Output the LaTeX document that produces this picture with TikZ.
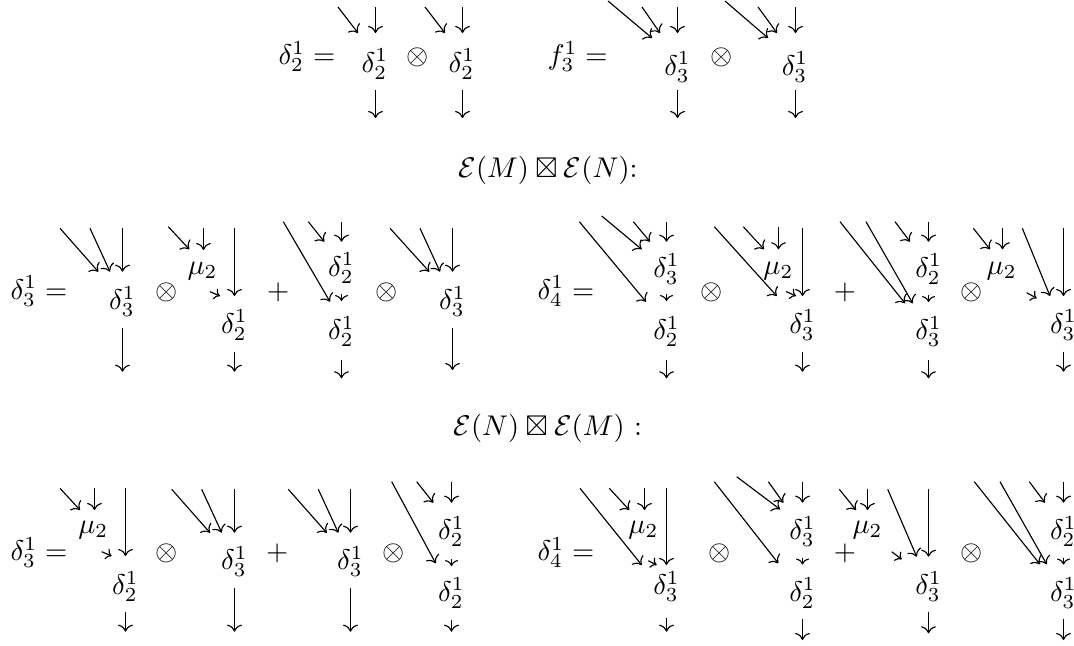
\documentclass[tikz,border=0pt]{standalone}
\usepackage{amssymb}
\usetikzlibrary{arrows.meta}
\newcounter{arc}
\tikzset{
  ar/.style={-{Computer Modern Rightarrow}, line width=0.4pt},
  sar/.style={-{Computer Modern Rightarrow[length=2pt,width=4pt]}, line width=0.4pt},
  tar/.style={-{Computer Modern Rightarrow[length=2.1pt,width=4.6pt]}, line width=0.4pt},
  lbl/.style={inner sep=0pt, anchor=base},
  opn/.style={inner sep=0pt},
  eqn/.style={inner sep=0pt, anchor=base west}
}
\newcommand\arw[3][ar]{\stepcounter{arc}%
  \coordinate (p\thearc) at (#2);\coordinate (q\thearc) at (#3);%
  \draw[#1] (p\thearc) -- (q\thearc);}
\begin{document}
\begin{tikzpicture}[x=0.351pt,y=-0.351pt]
\useasboundingbox (0,0) rectangle (1074,645);
% ---------- top row ----------
\node[eqn] (L1) at (278,64.4) {$\delta^1_2 =$};
\node[lbl] (a1) at (375,72) {$\delta^1_2$};
\node[opn] (o1) at (418,57.4) {$\otimes$};
\node[lbl] (a2) at (462,72) {$\delta^1_2$};
\arw{338,7}{358,33}\arw{375.5,7}{375.5,33}
\arw{425,7}{445,33}\arw{462.5,7}{462.5,33}
\arw{375.5,90}{375.5,118}\arw{462.5,90}{462.5,118}

\node[eqn] (L2) at (547,64.4) {$f^1_3 =$};
\node[lbl] (a3) at (677.5,75) {$\delta^1_3$};
\node[opn] (o2) at (722,57.4) {$\otimes$};
\node[lbl] (a4) at (795,75) {$\delta^1_3$};
\arw{608,1}{652,38}\arw{642,7}{660,33}\arw{677.5,7}{677.5,33}
\arw{725,1}{768,38}\arw{758,7}{777,33}\arw{795.5,7}{795.5,33}
\arw{677.5,90}{677.5,118}\arw{795.5,90}{795.5,118}

% ---------- titles ----------
\node[eqn] (T1) at (458,177) {$\mathcal{E}(M)\boxtimes\mathcal{E}(N)$:};
\node[eqn] (T2) at (453,435) {$\mathcal{E}(N)\boxtimes\mathcal{E}(M)$ :};

% ---------- row 2 left ----------
\node[eqn] (L3) at (10,299) {$\delta^1_3 =$};
\arw{60,228.3}{98.3,271.7}\arw{90,228.3}{110,271.7}\arw{122.5,228.3}{122.5,271.7}
\node[lbl] (b1) at (122.5,309.7) {$\delta^1_3$};
\arw{122.5,328.3}{122.5,371.7}
\node[opn] (o3) at (167,292) {$\otimes$};
\arw{168.3,226.7}{189.3,249.3}\arw{203.5,228.3}{203.5,250}
\node[lbl] (m1) at (202.5,274) {$\mu_2$};
\arw[sar]{210,291.7}{220,296}
\arw{234.5,228.3}{234.5,296}
\node[lbl] (b2) at (234.5,333) {$\delta^1_2$};
\arw{234.5,351.7}{234.5,371.7}
\node[opn] (s1) at (278.3,292) {$+$};
\arw{283.3,221.7}{330,301.7}\arw{308.3,221.7}{324.3,241.7}\arw{341.5,221.7}{341.5,241.7}
\node[lbl] (b3) at (341.5,276) {$\delta^1_2$};
\arw[tar]{341.5,294}{341.5,301}
\node[lbl] (b4) at (341.5,339.7) {$\delta^1_2$};
\arw{341.5,360}{341.5,378.3}
\node[opn] (o4) at (386.7,292) {$\otimes$};
\arw{390,228.3}{429.3,271.7}\arw{420,228.3}{440,271.7}\arw{452.5,228.3}{452.5,271.7}
\node[lbl] (b5) at (452.5,309.7) {$\delta^1_3$};
\arw{452.5,328.3}{452.5,370}

% ---------- row 2 right ----------
\node[eqn] (L4) at (537,299) {$\delta^1_4 =$};
\arw{579.3,221.7}{646,301.7}\arw{601.7,216}{641.7,249.3}\arw{633.3,221.7}{650,241.7}
\arw{666.5,221.7}{666.5,241.7}
\node[lbl] (c1) at (666.5,277) {$\delta^1_3$};
\arw[tar]{666.5,294}{666.5,301}
\node[lbl] (c2) at (666.5,339.7) {$\delta^1_2$};
\arw{666.5,360}{666.5,378.3}
\node[opn] (o5) at (711.7,292) {$\otimes$};
\arw{714.3,226.7}{776.7,296}\arw{743.3,226.7}{764,249.3}\arw{778.5,226.7}{778.5,249.3}
\node[lbl] (m2) at (778.3,274) {$\mu_2$};
\arw[sar]{786,291.5}{796,296}
\arw{802.5,228.3}{802.5,296}
\node[lbl] (c3) at (802.5,333) {$\delta^1_3$};
\arw{802.5,351.7}{802.5,371.7}
\node[opn] (s2) at (845,292) {$+$};
\arw{840,221.7}{905,303.3}\arw{866,221.7}{912.7,303.3}\arw{895,221.7}{910,241.7}
\arw{928.5,221.7}{928.5,241.7}
\node[lbl] (c4) at (928.5,277) {$\delta^1_2$};
\arw[tar]{928.5,295}{928.5,302}
\node[lbl] (c5) at (928.5,339.7) {$\delta^1_3$};
\arw{928.5,360}{928.5,378.3}
\node[opn] (o6) at (971.7,292) {$\otimes$};
\arw{973.3,228.3}{990,249.3}\arw{1002.5,228.3}{1002.5,249.3}
\node[lbl] (m3) at (1001.7,274) {$\mu_2$};
\arw[sar]{1026.7,292.7}{1036.7,298.3}
\arw{1022.3,228.3}{1050,296}\arw{1063.5,228.3}{1063.5,296}
\node[lbl] (c6) at (1063.3,333) {$\delta^1_3$};
\arw{1063.5,351.7}{1063.5,371.7}

% ---------- row 3 left ----------
\node[eqn] (L5) at (10,560.7) {$\delta^1_3 =$};
\arw{60,488.3}{80,510}\arw{94.5,488.3}{94.5,510}
\node[lbl] (m4) at (93.3,533) {$\mu_2$};
\arw[sar]{101.7,551.7}{111.7,556}
\arw{125.5,488.3}{125.5,556}
\node[lbl] (d1) at (125.5,594.7) {$\delta^1_2$};
\arw{125.5,611.7}{125.5,631.7}
\node[opn] (o7) at (166.7,553.6) {$\otimes$};
\arw{171.7,489.3}{210,532.7}\arw{201.7,489.3}{221.7,532.7}\arw{234.5,489.3}{234.5,532.7}
\node[lbl] (d2) at (234.5,569.7) {$\delta^1_3$};
\arw{234.5,588.3}{234.5,631.7}
\node[opn] (s3) at (277.3,553.6) {$+$};
\arw{288.3,489.3}{326.7,532.7}\arw{318.3,489.3}{338.3,532.7}\arw{350.5,489.3}{350.5,532.7}
\node[lbl] (d3) at (350.5,569.7) {$\delta^1_3$};
\arw{350.5,588.3}{350.5,631.7}
\node[opn] (o8) at (393.3,553.6) {$\otimes$};
\arw{391.7,481.7}{435.7,563.3}\arw{416.7,481.7}{433.3,502.7}\arw{451.5,481.7}{451.5,502.7}
\node[lbl] (d4) at (451.5,539.7) {$\delta^1_2$};
\arw[tar]{451.5,559}{451.5,566}
\node[lbl] (d5) at (451.5,601.3) {$\delta^1_2$};
\arw{451.5,620}{451.5,631.7}

% ---------- row 3 right ----------
\node[eqn] (L6) at (537,560.7) {$\delta^1_4 =$};
\arw{580,488.3}{641.7,565}\arw{609.3,488.3}{629.3,510}\arw{644.5,488.3}{644.5,510}
\node[lbl] (m5) at (643.3,533) {$\mu_2$};
\arw[sar]{648.3,560.7}{656.7,565}
\arw{666.5,488.3}{666.5,565}
\node[lbl] (e1) at (666.5,594.7) {$\delta^1_3$};
\arw{666.5,618.3}{666.5,631.7}
\node[opn] (o9) at (720,553.6) {$\otimes$};
\arw{714.3,481.7}{778.3,563.3}\arw{736.7,476.7}{780,509.3}\arw{768.3,481.7}{783.3,502.7}
\arw{802.5,481.7}{802.5,502.7}
\node[lbl] (e2) at (802.5,539.7) {$\delta^1_3$};
\arw[tar]{802.5,557.5}{802.5,564.5}
\node[lbl] (e3) at (802.5,601.3) {$\delta^1_2$};
\arw{802.5,619.3}{802.5,640}
\node[opn] (s4) at (845,553.6) {$+$};
\arw{839.3,489.3}{856,510}\arw{867.5,489.3}{867.5,510}
\node[lbl] (m6) at (867.5,533) {$\mu_2$};
\arw[sar]{891.7,551.7}{901.7,559.3}
\arw{887.7,489.3}{916.7,556.7}\arw{928.5,489.3}{928.5,556.7}
\node[lbl] (e4) at (928.5,594.7) {$\delta^1_3$};
\arw{928.5,611.7}{928.5,633.3}
\node[opn] (o10) at (971.7,553.6) {$\otimes$};
\arw{974.3,481.7}{1040,564.3}\arw{1000,481.7}{1046.7,564.3}\arw{1029.3,481.7}{1045,502.7}
\arw{1063.5,481.7}{1063.5,502.7}
\node[lbl] (e5) at (1063.3,539.7) {$\delta^1_2$};
\arw[tar]{1063.5,557.5}{1063.5,564.5}
\node[lbl] (e6) at (1063.3,601.3) {$\delta^1_3$};
\arw{1063.5,619.3}{1063.5,640}
\end{tikzpicture}
\end{document}
